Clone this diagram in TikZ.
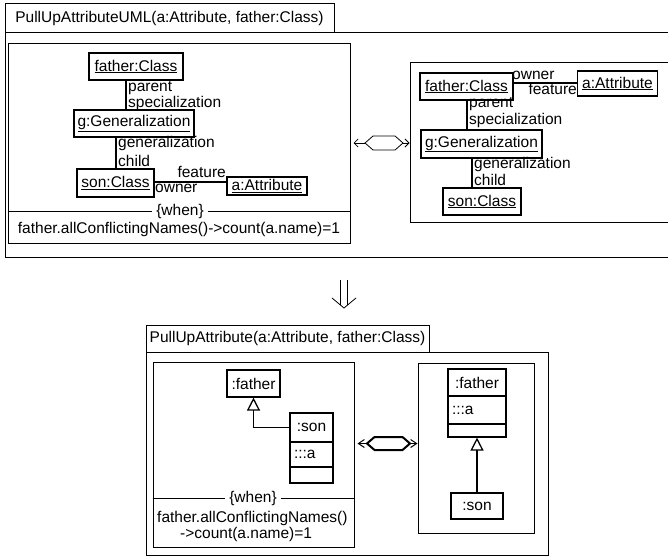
\documentclass[tikz,border=0pt]{standalone}
\usepackage{fontspec}
\setmainfont{Liberation Sans}
\usetikzlibrary{arrows.meta}
\begin{document}
\begin{tikzpicture}[x=1pt,y=-1pt,
  every node/.style={font=\fontsize{15.5}{16}\selectfont, inner sep=0pt},
  wh/.style 2 args={minimum width=#1, minimum height=#2},
  frame/.style={draw, line width=1pt},
  obj/.style={draw, line width=1.5pt},
  cls/.style={draw, line width=1.1pt},
  lbl/.style={anchor=base west},
  lblr/.style={anchor=base east},
  assoc/.style={line width=1.3pt},
  gen/.style={line width=1.3pt, -{Triangle[open, length=13pt, width=13pt]}},
  realize/.style={line width=0.8pt, shorten <=3pt,
    {Straight Barb[length=4pt,width=8pt]}-{Straight Barb[length=4pt,width=8pt]}},
  realizebold/.style={line width=1pt, shorten <=3pt,
    {Straight Barb[length=6pt,width=8pt]}-{Straight Barb[length=6pt,width=8pt]}},
  whenlbl/.style={fill=white, inner xsep=4pt, inner ysep=1pt}]
\path[use as bounding box, clip] (0,0) rectangle (668,556);

% ---------- upper rule: PullUpAttributeUML ----------
\node[frame, wh={329}{29}] (tab1) at (169.5,18.5) {PullUpAttributeUML(a:Attribute, father:Class)};
\node[frame, wh={667}{224}] (outer1) at (338.5,145) {};
\node[frame, wh={342}{199}] (lhs1) at (179,143.5) {};
\node[frame, wh={262}{159}] (rhs1) at (541,142.5) {};

% left-hand side objects
\node[obj, wh={94}{27}] (f1) at (136,66.5) {\underline{father:Class}};
\node[obj, wh={120}{27}] (g1) at (134,123.5) {\underline{g:Generalization}};
\node[obj, wh={77}{28}] (s1) at (115.5,183) {\underline{son:Class}};
\node[obj, wh={80}{18}] (a1) at (267,186) {\underline{a:Attribute}};

\draw[assoc] (126,0 |- f1.south) -- (126,0 |- g1.north);
\node[lbl] (l1a) at (128,92) {parent};
\node[lbl] (l1b) at (128,108) {specialization};
\draw[assoc] (116,0 |- g1.south) -- (116,0 |- s1.north);
\node[lbl] (l1c) at (118,148) {generalization};
\node[lbl] (l1d) at (118,166) {child};
\draw[assoc] (s1.east |- 0,182) -- (a1.west |- 0,182);
\node[lblr] (l1e) at (226,177) {feature};
\node[lbl] (l1f) at (155,192) {owner};

% application condition
\node[whenlbl] (when1) at (180,211) {\{when\}};
\draw[line width=1pt] (lhs1.west |- when1) -- (when1.west);
\draw[line width=1pt] (when1.east) -- (lhs1.east |- when1);
\node[anchor=base] (cond1) at (179,233) {father.allConflictingNames()->count(a.name)=1};

% right-hand side objects
\node[obj, wh={93}{27}] (f2) at (466.5,86.5) {\underline{father:Class}};
\node[obj, wh={80}{25}] (a2) at (617.5,83.5) {\underline{a:Attribute}};
\node[obj, wh={121}{28}] (g2) at (481.5,144) {\underline{g:Generalization}};
\node[obj, wh={78}{27}] (s2) at (482,201.5) {\underline{son:Class}};

\draw[assoc] (f2.east |- 0,83) -- (a2.west |- 0,83);
\node[lbl] (l2a) at (512,80) {owner};
\node[lblr] (l2b) at (577,95) {feature};
\draw[assoc] (467,0 |- f2.south) -- (467,0 |- g2.north);
\node[lbl] (l2c) at (469,108) {parent};
\node[lbl] (l2d) at (469,125) {specialization};
\draw[assoc] (472,0 |- g2.south) -- (472,0 |- s2.north);
\node[lbl] (l2e) at (474,168) {generalization};
\node[lbl] (l2f) at (474,185) {child};

% realization connector with hexagon
\coordinate (h1) at (384,143);
\draw[realize] (lhs1.east |- h1) -- (rhs1.west |- h1);
\draw[line width=0.8pt, fill=white, shift={(h1)}]
  (-19,0) -- (-11,-7) -- (11,-7) -- (19,0) -- (11,7) -- (-11,7) -- cycle;

% ---------- derivation arrow ----------
\coordinate (d0) at (344,280);
\coordinate (d1) at (344,308);
\draw[line width=0.8pt] ([xshift=-3.5pt]d0) -- ([xshift=-3.5pt,yshift=3pt]d1);
\draw[line width=0.8pt] ([xshift=3.5pt]d0) -- ([xshift=3.5pt,yshift=3pt]d1);
\draw[line width=0.8pt] ([xshift=-12pt,yshift=10pt]d1) -- (d1) -- ([xshift=12pt,yshift=10pt]d1);

% ---------- lower rule: PullUpAttribute ----------
\node[frame, wh={283}{27}] (tab2) at (287.5,338.5) {PullUpAttribute(a:Attribute, father:Class)};
\node[frame, wh={402}{203}] (outer2) at (347,453.5) {};
\node[frame, wh={201}{185}] (lhs2) at (253.5,454.5) {};
\node[frame, wh={116}{170}] (rhs2) at (476,448) {};

% left-hand side classes
\node[cls, wh={53}{27}] (bf) at (253.5,383.5) {:father};
\node[cls, wh={43}{29}] (bs) at (311.5,427.5) {:son};
\node[cls, wh={43}{25}, inner xsep=4pt, text width=35pt, align=left] (bsattr) at (311.5,454.5) {:::a};
\node[cls, wh={43}{16}] (bsops) at (311.5,475) {};
\draw[gen] (bs.west) -| (bf.south);

\node[whenlbl] (when2) at (253,498) {\{when\}};
\draw[line width=1pt] (lhs2.west |- when2) -- (when2.west);
\draw[line width=1pt] (when2.east) -- (lhs2.east |- when2);
\node[anchor=base west] (cond2a) at (157,522) {father.allConflictingNames()};
\node[anchor=base west] (cond2b) at (180,538) {->count(a.name)=1};

% right-hand side classes
\node[cls, wh={58}{27}] (rf) at (477,382.5) {:father};
\node[cls, wh={58}{28}, inner xsep=4pt, text width=50pt, align=left] (rfattr) at (477,410) {:::a};
\node[cls, wh={58}{13}] (rfops) at (477,430.5) {};
\node[cls, wh={52}{26}] (rs) at (477,506) {:son};
\draw[gen] (rs.north) -- (rfops.south);

% realization connector with hexagon
\coordinate (h2) at (388.5,443.5);
\draw[realizebold] (lhs2.east |- h2) -- (rhs2.west |- h2);
\draw[line width=2pt, fill=white, shift={(h2)}]
  (-21.5,0) -- (-14,-6.5) -- (14,-6.5) -- (21.5,0) -- (14,6.5) -- (-14,6.5) -- cycle;
\end{tikzpicture}
\end{document}
